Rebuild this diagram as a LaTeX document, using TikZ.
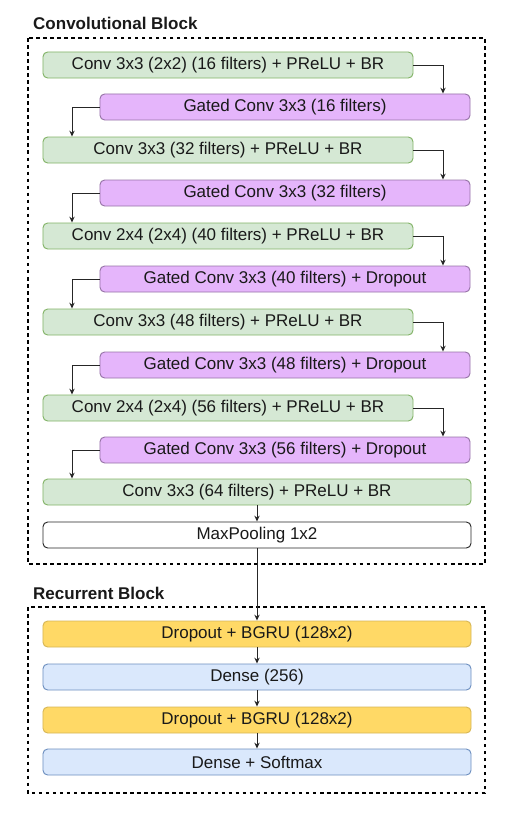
\documentclass[tikz,border=0pt]{standalone}
\usepackage{fontspec}
\setmainfont{Liberation Sans}
\usetikzlibrary{arrows.meta}
\definecolor{convfill}{HTML}{D5E8D4}
\definecolor{convline}{HTML}{82B366}
\definecolor{gatefill}{HTML}{E5B5FB}
\definecolor{gateline}{HTML}{9673A6}
\definecolor{grufill}{HTML}{FFD966}
\definecolor{gruline}{HTML}{D6B656}
\definecolor{densefill}{HTML}{DAE8FC}
\definecolor{denseline}{HTML}{6C8EBF}

\begin{document}
\begin{tikzpicture}[x=0.03cm, y=-0.03cm, >={Stealth[length=5pt,width=4.5pt]},
    font=\fontsize{14.5}{17}\selectfont, text=black!90,
    layer/.style={draw, rounded corners=4pt, minimum height=0.78cm, inner sep=0pt, line width=0.8pt},
    conv/.style={layer, fill=convfill, draw=convline, minimum width=11.1cm},
    gate/.style={layer, fill=gatefill, draw=gateline, minimum width=11.1cm},
    wide/.style={layer, minimum width=12.84cm},
    link/.style={->, line width=0.8pt, draw=black!85},
    frame/.style={dashed, line width=0.9pt},
    title/.style={anchor=base west, inner sep=0pt, font=\fontsize{14.5}{17}\selectfont\bfseries}]
  \useasboundingbox (0,0) rectangle (517,814);
  \def\xc{228}    % centre of the conv layers
  \def\xg{285}    % centre of the gated layers
  \def\xw{257}    % centre of the full-width layers
  % ---------------- convolutional block
  \draw[frame] (28,38) rectangle (485,564);
  \node[title] at (33,30) {Convolutional Block};
  \node[conv] (c1) at (\xc,65)  {Conv 3x3 (2x2) (16 filters) + PReLU + BR};
  \node[gate] (g1) at (\xg,107) {Gated Conv 3x3 (16 filters)};
  \node[conv] (c2) at (\xc,150) {Conv 3x3 (32 filters) + PReLU + BR};
  \node[gate] (g2) at (\xg,193) {Gated Conv 3x3 (32 filters)};
  \node[conv] (c3) at (\xc,236) {Conv 2x4 (2x4) (40 filters) + PReLU + BR};
  \node[gate] (g3) at (\xg,279) {Gated Conv 3x3 (40 filters) + Dropout};
  \node[conv] (c4) at (\xc,322) {Conv 3x3 (48 filters) + PReLU + BR};
  \node[gate] (g4) at (\xg,365) {Gated Conv 3x3 (48 filters) + Dropout};
  \node[conv] (c5) at (\xc,408) {Conv 2x4 (2x4) (56 filters) + PReLU + BR};
  \node[gate] (g5) at (\xg,450) {Gated Conv 3x3 (56 filters) + Dropout};
  \node[wide, fill=convfill, draw=convline] (c6) at (\xw,492) {Conv 3x3 (64 filters) + PReLU + BR};
  \node[wide, fill=white, draw=black!85] (pool) at (\xw,535) {MaxPooling 1x2};
  % zig-zag between conv and gated layers
  \foreach \i [evaluate=\i as \j using int(\i+1)] in {1,...,5} {
    \draw[link] (c\i.east) -| (443,0 |- g\i.north);
    \draw[link] (g\i.west) -| (72,0 |- c\j.north);
  }
  \draw[link] (c6) -- (pool);
  % ---------------- recurrent block
  \draw[frame] (28,607) rectangle (485,793);
  \node[title] at (33,599) {Recurrent Block};
  \node[wide, fill=grufill, draw=gruline] (r1) at (\xw,634) {Dropout + BGRU (128x2)};
  \node[wide, fill=densefill, draw=denseline] (d1) at (\xw,677) {Dense (256)};
  \node[wide, fill=grufill, draw=gruline] (r2) at (\xw,720) {Dropout + BGRU (128x2)};
  \node[wide, fill=densefill, draw=denseline] (d2) at (\xw,762) {Dense + Softmax};
  \draw[link] (pool) -- (r1);
  \draw[link] (r1) -- (d1);
  \draw[link] (d1) -- (r2);
  \draw[link] (r2) -- (d2);
\end{tikzpicture}
\end{document}
